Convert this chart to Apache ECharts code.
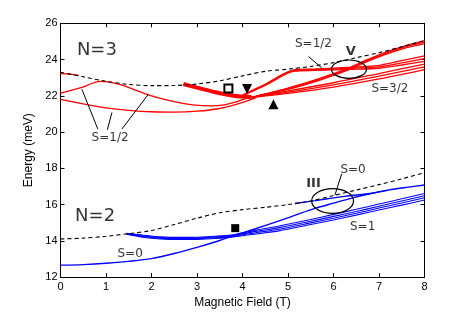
<!DOCTYPE html>
<html><head><meta charset="utf-8">
<script src="https://cdn.jsdelivr.net/npm/echarts@6/dist/echarts.min.js"></script>
<style>html,body{margin:0;padding:0;background:#fff}#c{width:469px;height:314px}</style>
</head><body><div id="c"></div>
<script>
// ---- axis ticks ----
const xTicks = [0,1,2,3,4,5,6,7,8];
const yTicks = [12,14,16,18,20,22,24,26];

// ---- N=3 (red) ----
const n3Dashed = [[0,23.3],[0.5,23.05],[1,22.8],[1.5,22.63],[2,22.56],[2.5,22.57],[3,22.65],[3.5,22.83],[4,23.1],[4.5,23.35],[5,23.47],[5.5,23.62],[6,23.83],[6.5,24.1],[7,24.38],[7.5,24.7],[8,25.05]];
const n3Top = [[0,23.22],[0.2,23.2],[0.4,23.13]];
const n3Mid = [[0,22.15],[0.45,22.45],[0.87,22.8],[1.1,22.74],[1.3,22.63],[1.6,22.36],[1.9,22.08],[2.2,21.86],[2.55,21.65],[2.9,21.5],[3.3,21.44],[3.6,21.5],[3.9,21.7],[4.2,21.95]];
const n3Low = [[0,21.8],[0.5,21.55],[1,21.33],[1.5,21.2],[2,21.12],[2.5,21.1],[3,21.15],[3.5,21.3],[3.9,21.55],[4.3,21.9]];
const n3Band = [[2.7,22.65],[3.0,22.45],[3.4,22.2],[3.8,22.0],[4.2,21.92]];
const n3A1 = [[4.0,22.0],[4.5,22.58],[5.15,23.36],[5.6,23.4],[6.0,23.43],[6.4,23.46],[7,23.52],[7.5,23.7],[8,23.9]];
const n3A2 = [[4.0,22.02],[4.5,22.61],[5.15,23.4],[5.6,23.44],[6.0,23.48],[6.4,23.52],[7,23.6],[7.5,23.82],[8,24.05]];
const n3A3 = [[4.0,22.04],[4.5,22.64],[5.15,23.44],[5.6,23.48],[6.0,23.53],[6.4,23.58],[7,23.68],[7.5,23.94],[8,24.2]];
const n3B1 = [[4.3,21.95],[5,22.35],[5.6,22.78],[6.0,23.12],[6.35,23.46],[6.7,23.85],[7.1,24.24],[7.5,24.58],[8,24.88]];
const n3B2 = [[4.3,21.97],[5,22.39],[5.6,22.83],[6.0,23.17],[6.35,23.51],[6.7,23.9],[7.1,24.3],[7.5,24.64],[8,24.96]];
const n3B3 = [[4.3,21.99],[5,22.43],[5.6,22.88],[6.0,23.22],[6.35,23.56],[6.7,23.95],[7.1,24.36],[7.5,24.7],[8,25.04]];
const n3S1 = [[4.2,21.9],[5,22.13],[6,22.48],[7,22.93],[8,23.45]];
const n3S2 = [[4.2,21.92],[5,22.2],[6,22.6],[7,23.08],[8,23.6]];
const n3S3 = [[4.2,21.94],[5,22.27],[6,22.72],[7,23.23],[8,23.75]];

// ---- N=2 (blue) ----
const n2Dashed = [[0,14.1],[0.5,14.15],[1,14.25],[1.5,14.4],[2,14.57],[2.5,14.9],[3,15.25],[3.5,15.55],[4,15.72],[4.5,15.85],[5,16.0],[5.5,16.2],[6,16.5],[6.5,16.8],[7,17.1],[7.5,17.42],[8,17.76]];
const n2S0 = [[0,12.66],[0.5,12.69],[1,12.76],[1.5,12.87],[2,13.02],[2.5,13.3],[3,13.64],[3.5,14.02],[3.8,14.28],[4.3,14.68],[4.82,15.12],[5.56,15.76],[6,16.08],[6.4,16.36],[6.8,16.6],[7.2,16.8],[7.6,16.95],[8,17.08]];
const n2Upper = [[5.15,16.06],[5.6,16.22],[6.0,16.37],[6.4,16.5],[6.8,16.61],[7.2,16.8]];
const n2T1 = [[1.45,14.36],[1.8,14.2],[2.2,14.1],[2.6,14.07],[3.0,14.08],[3.4,14.13],[3.8,14.22],[4.3,14.38],[4.8,14.55],[5.5,14.9],[6,15.15],[6.5,15.42],[7,15.7],[7.5,15.97],[8,16.25]];
const n2T2 = [[1.45,14.38],[1.8,14.24],[2.2,14.14],[2.6,14.11],[3.0,14.12],[3.4,14.17],[3.8,14.26],[4.3,14.45],[4.8,14.64],[5.5,14.99],[6,15.25],[6.5,15.52],[7,15.81],[7.5,16.09],[8,16.38]];
const n2T3 = [[1.45,14.4],[1.8,14.28],[2.2,14.18],[2.6,14.15],[3.0,14.16],[3.4,14.21],[3.8,14.3],[4.3,14.52],[4.8,14.73],[5.5,15.08],[6,15.35],[6.5,15.62],[7,15.91],[7.5,16.2],[8,16.49]];
const n2T4 = [[1.45,14.42],[1.8,14.32],[2.2,14.22],[2.6,14.19],[3.0,14.2],[3.4,14.25],[3.8,14.34],[4.3,14.59],[4.8,14.82],[5.5,15.18],[6,15.46],[6.5,15.74],[7,16.03],[7.5,16.32],[8,16.61]];

// ---- annotations ----
const pointers = [
  [[0.82,20.17],[0.47,22.36]],
  [[1.03,20.13],[1.13,21.08]],
  [[1.35,20.17],[1.93,22.08]],
  [[5.45,24.17],[5.74,23.54]],
  [[6.18,17.7],[6.03,16.52]]
];
const ellipses = [[5.98,16.2,0.92,1.37],[6.34,23.47,0.77,1.01]]; // cx, cy, width(T), height(meV)
const bigLabels = [[0.8,24.5,'N=3'],[0.76,15.34,'N=2']];
const smallLabels = [[1.09,19.66,'S=1/2'],[1.53,13.27,'S=0'],[5.56,24.85,'S=1/2'],[7.24,22.39,'S=3/2'],[6.43,17.94,'S=0'],[6.64,14.79,'S=1']];
const boldLabels = [[5.56,17.16,'III'],[6.38,24.45,'V']];
const openSquares = [[3.69,22.41]];
const filledSquares = [[3.84,14.7]];
const downTriangles = [[4.1,22.37]];
const upTriangles = [[4.68,21.53]];

const RED = '#ff0000', BLUE = '#0000ff';
const AF = 'Liberation Sans', LF = 'DejaVu Sans';

function line(data, color, width, dashed) {
  return {
    type: 'line', data: data, showSymbol: false, smooth: 0.3, silent: true,
    lineStyle: { color: color, width: width, type: dashed ? [4, 3] : 'solid' },
    z: dashed ? 5 : 3, clip: true
  };
}
function labels(arr, size, weight) {
  return {
    type: 'scatter', symbolSize: 0, silent: true, z: 10,
    data: arr.map(d => ({ name: d[2], value: [d[0], d[1]] })),
    label: { show: true, position: 'inside', formatter: p => p.name, color: '#000',
      fontFamily: LF, fontSize: size, fontWeight: weight }
  };
}
function marker(arr, symbol, size, rot, fill, border) {
  return {
    type: 'scatter', data: arr, symbol: symbol, symbolSize: size, symbolRotate: rot, silent: true, z: 12,
    itemStyle: { color: fill, borderColor: '#000', borderWidth: border, opacity: 1 }
  };
}

const series = [];
[n3Top, n3Mid, n3Low, n3A1, n3A2, n3A3, n3B1, n3B2, n3B3, n3S1, n3S2, n3S3].forEach(d => series.push(line(d, RED, 1.3)));
series.push(line(n3Band, RED, 4));
[n2S0, n2Upper].forEach(d => series.push(line(d, BLUE, 1.4)));
[n2T1, n2T2, n2T3, n2T4].forEach(d => series.push(line(d, BLUE, 1.1)));
series.push(line(n3Dashed, '#000', 1.1, true));
series.push(line(n2Dashed, '#000', 1.1, true));
pointers.forEach(p => series.push({ type: 'line', data: p, showSymbol: false, silent: true, z: 8,
  lineStyle: { color: '#000', width: 1 } }));
series.push({
  type: 'custom', silent: true, z: 9, data: ellipses,
  renderItem: function (params, api) {
    const c = api.coord([api.value(0), api.value(1)]);
    const s = api.size([api.value(2), api.value(3)]);
    return { type: 'ellipse', shape: { cx: c[0], cy: c[1], rx: s[0] / 2, ry: s[1] / 2 },
      style: { fill: 'none', stroke: '#000', lineWidth: 1.2 } };
  }
});
series.push(labels(bigLabels, 18, 'normal'));
series.push(labels(smallLabels, 12, 'normal'));
series.push(labels(boldLabels, 13, 'bold'));
series.push(marker(openSquares, 'rect', 8, 0, '#fff', 2));
series.push(marker(filledSquares, 'rect', 8, 0, '#000', 0));
series.push(marker(downTriangles, 'triangle', 10, 180, '#000', 0));
series.push(marker(upTriangles, 'triangle', 10, 0, '#000', 0));

function xAx(pos, showLabel) {
  return {
    type: 'value', position: pos, min: xTicks[0], max: xTicks[xTicks.length - 1], interval: 1,
    axisLine: { show: true, onZero: false, lineStyle: { color: '#000', width: 1 } },
    axisTick: { show: true, inside: true, length: 4, lineStyle: { color: '#000' } },
    axisLabel: { show: showLabel, color: '#000', fontSize: 11, fontFamily: AF, margin: 4 },
    splitLine: { show: false },
    name: showLabel ? 'Magnetic Field (T)' : '', nameLocation: 'middle', nameGap: 16,
    nameTextStyle: { color: '#000', fontSize: 12, fontFamily: AF }
  };
}
function yAx(pos, showLabel) {
  return {
    type: 'value', position: pos, min: yTicks[0], max: yTicks[yTicks.length - 1], interval: 2,
    axisLine: { show: true, onZero: false, lineStyle: { color: '#000', width: 1 } },
    axisTick: { show: true, inside: true, length: 4, lineStyle: { color: '#000' } },
    axisLabel: { show: showLabel, color: '#000', fontSize: 11, fontFamily: AF, margin: 3 },
    splitLine: { show: false },
    name: showLabel ? 'Energy (meV)' : '', nameLocation: 'middle', nameGap: 15,
    nameTextStyle: { color: '#000', fontSize: 12, fontFamily: AF }
  };
}

const chart = echarts.init(document.getElementById('c'), null, { renderer: 'canvas' });
chart.setOption({
  animation: false,
  backgroundColor: '#fff',
  grid: { left: 60.5, right: 44.5, top: 23.3, bottom: 34.7, containLabel: false },
  xAxis: [xAx('bottom', true), xAx('top', false)],
  yAxis: [yAx('left', true), yAx('right', false)],
  series: series
});
</script></body></html>
